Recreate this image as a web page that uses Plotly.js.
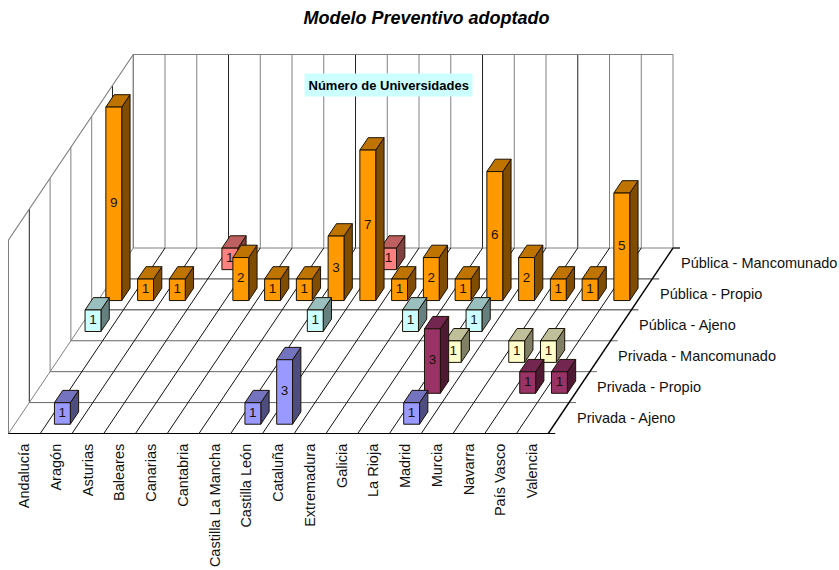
<!DOCTYPE html>
<html><head><meta charset="utf-8">
<script src="https://cdn.plot.ly/plotly-3.0.1.min.js"></script>
<style>html,body{margin:0;padding:0;background:#fff}</style></head>
<body><div id="chart" style="width:839px;height:570px"></div>
<script>
// ---- data ----
const categories = ["Andalucía","Aragón","Asturias","Baleares","Canarias","Cantabria","Castilla La Mancha","Castilla León","Cataluña","Extremadura","Galicia","La Rioja","Madrid","Murcia","Navarra","País Vasco","Valencia"];
const seriesNames = ["Privada - Ajeno","Privada - Propio","Privada - Mancomunado","Pública - Ajeno","Pública - Propio","Pública - Mancomunado"];
const privadaAjeno        = [0,1,0,0,0,0,0,1,3,0,0,0,1,0,0,0,0];
const privadaPropio       = [0,0,0,0,0,0,0,0,0,0,0,0,3,0,0,1,1];
const privadaMancomunado  = [0,0,0,0,0,0,0,0,0,0,0,0,1,0,1,1,0];
const publicaAjeno        = [1,0,0,0,0,0,0,1,0,0,1,0,1,0,0,0,0];
const publicaPropio       = [9,1,1,0,2,1,1,3,7,1,2,1,6,2,1,1,5];
const publicaMancomunado  = [0,0,0,1,0,0,0,0,1,0,0,0,0,0,0,0,0];
const seriesValues = [privadaAjeno,privadaPropio,privadaMancomunado,publicaAjeno,publicaPropio,publicaMancomunado];
const faceColors = [["#9999FF","#7373BF","#4D4D80"],["#993366","#732650","#4D1933"],["#FFFFCC","#BFBF99","#808066"],["#CCFFFF","#99BFBF","#668080"],["#FF9900","#BF7300","#7F4C00"],["#FF8080","#BF6060","#804040"]];
const valueMax = 9;
// ---- oblique projection, in axis units (x: one category, y: one value) ----
const kx = 0.655, ky = 1.438;
const px = (c,s) => c + s*kx;
const py = (s,v) => s*ky + v;
const barU = [0.25,0.75], barV = [0.3,0.7];
const nC = categories.length, nS = seriesNames.length;
const traces = [];
function line(xs,ys,color,width){traces.push({type:"scatter",mode:"lines",x:xs,y:ys,line:{color:color,width:width||1},hoverinfo:"skip",cliponaxis:false});}
const GR="#808080", BK="#000000";
const darkBack=[3,7,11,14], darkLeft=[1,5];
// walls
for(let c=0;c<=nC;c++) line([px(c,nS),px(c,nS)],[py(nS,0),py(nS,valueMax)],darkBack.includes(c)?"#222":GR);
for(let s=0;s<=nS;s++) line([px(0,s),px(0,s)],[py(s,0),py(s,valueMax)],darkLeft.includes(s)?"#222":GR);
line([px(0,0),px(0,nS),px(nC,nS)],[py(0,valueMax),py(nS,valueMax),py(nS,valueMax)],GR,1.2);
// floor
const rowCol=[BK,"#666","#666","#666","#333","#333",GR];
for(let s=nS;s>=0;s--) line([px(0,s),px(nC,s)+0.22],[py(s,0),py(s,0)],rowCol[s]);
line([px(nC,nS),px(nC,nS)+0.22],[py(nS,0),py(nS,0)],BK);
for(let c=0;c<nC;c++) line([px(c,0),px(c,nS)],[py(0,0),py(nS,0)],c==0?GR:"#111");
line([px(nC,0),px(nC,nS)],[py(0,0),py(nS,0)],BK,1.4);
for(let c=0;c<=nC;c++) line([c,c],[0,-0.32],BK);
// bars, back row first
for(let s=nS-1;s>=0;s--){
  const f={x:[],y:[]},t={x:[],y:[]},r={x:[],y:[]},lab={x:[],y:[],text:[]};
  const add=(o,pts)=>{pts.forEach(p=>{o.x.push(p[0]);o.y.push(p[1]);});o.x.push(null);o.y.push(null);};
  seriesValues[s].forEach((v,c)=>{
    if(!v) return;
    const c0=c+barU[0],c1=c+barU[1],s0=s+barV[0],s1=s+barV[1];
    add(f,[[px(c0,s0),py(s0,0)],[px(c1,s0),py(s0,0)],[px(c1,s0),py(s0,v)],[px(c0,s0),py(s0,v)],[px(c0,s0),py(s0,0)]]);
    add(t,[[px(c0,s0),py(s0,v)],[px(c1,s0),py(s0,v)],[px(c1,s1),py(s1,v)],[px(c0,s1),py(s1,v)],[px(c0,s0),py(s0,v)]]);
    add(r,[[px(c1,s0),py(s0,0)],[px(c1,s1),py(s1,0)],[px(c1,s1),py(s1,v)],[px(c1,s0),py(s0,v)],[px(c1,s0),py(s0,0)]]);
    lab.x.push(px(c+0.5,s0));lab.y.push(py(s0,v/2));lab.text.push(String(v));
  });
  [[r,2],[t,1],[f,0]].forEach(([o,k])=>traces.push({type:"scatter",mode:"lines",x:o.x,y:o.y,fill:"toself",fillcolor:faceColors[s][k],line:{color:"#1a1206",width:1},hoverinfo:"skip",cliponaxis:false}));
  traces.push({type:"scatter",mode:"text",x:lab.x,y:lab.y,text:lab.text,textposition:"middle center",textfont:{family:"Liberation Sans",size:13.5,color:"#1a1206"},hoverinfo:"skip",cliponaxis:false});
}
const annotations = seriesNames.map((n,s)=>({xref:"x",yref:"y",x:px(nC,s+0.5)+0.5,y:py(s+0.5,0),text:n,showarrow:false,xanchor:"left",yanchor:"middle",font:{family:"Liberation Sans",size:14.5,color:"#111"}}));
annotations.push({xref:"paper",yref:"paper",x:388.5/839,y:(434-85.5)/434,yanchor:"middle",xanchor:"center",text:"<b>Número de Universidades</b>",showarrow:false,bgcolor:"#CCFFFF",borderpad:3.5,font:{family:"Liberation Sans",size:13,color:"#000"}});
const layout={
  width:839,height:570,margin:{l:0,r:0,t:0,b:136},showlegend:false,paper_bgcolor:"#fff",plot_bgcolor:"#fff",
  title:{text:"<b><i>Modelo Preventivo adoptado</i></b>",x:426.5/839,xanchor:"center",y:1-18/570,yanchor:"middle",font:{family:"Liberation Sans",size:18,color:"#000"}},
  xaxis:{range:[-8.5/31.75,(839-8.5)/31.75],tickmode:"array",tickvals:categories.map((_,i)=>i+0.5),ticktext:categories,tickangle:-90,ticks:"outside",ticklen:3,tickcolor:"rgba(0,0,0,0)",showgrid:false,zeroline:false,showline:false,tickfont:{family:"Liberation Sans",size:14.5,color:"#111"},fixedrange:true},
  yaxis:{range:[-0.5/21.5,433.5/21.5],visible:false,fixedrange:true},
  annotations:annotations
};
Plotly.newPlot("chart",traces,layout,{displayModeBar:false,staticPlot:true});
</script></body></html>
